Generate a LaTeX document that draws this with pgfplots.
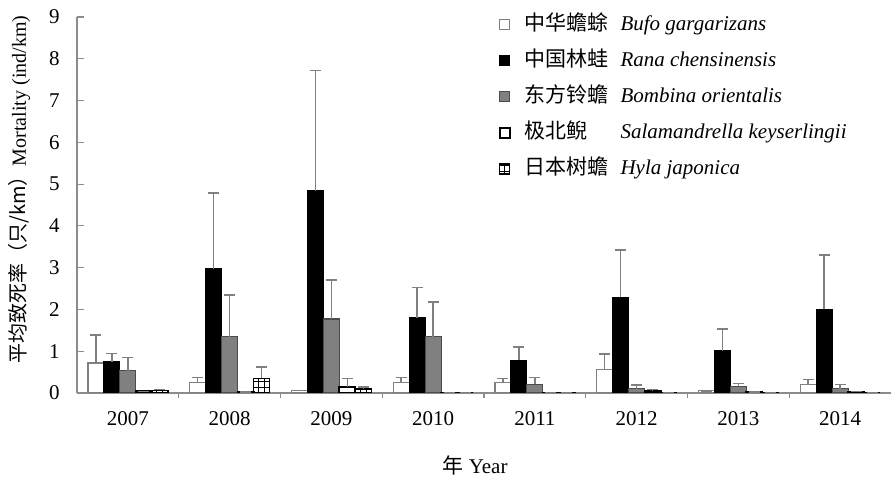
\documentclass[border=0pt]{standalone}
\usepackage{pgfplots}
\pgfplotsset{compat=1.18}
\usepackage{pgfplotstable}
\usetikzlibrary{patterns}
\usepackage{fontspec}
\setmainfont{Liberation Serif}
\newfontfamily\cjk{Noto Sans CJK SC}
\definecolor{midgray}{HTML}{808080}
\definecolor{axgray}{HTML}{8C8C8C}

\pgfplotstableread{
x y e
0 0.72 0.67
1 0.25 0.12
2 0.06 0
3 0.25 0.12
4 0.25 0.10
5 0.57 0.36
6 0.05 0
7 0.21 0.12
}\bufo
\pgfplotstableread{
x y e
0 0.74 0.20
1 2.97 1.82
2 4.84 2.88
3 1.80 0.73
4 0.78 0.32
5 2.29 1.13
6 1.01 0.52
7 2.00 1.30
}\rana
\pgfplotstableread{
x y e
0 0.53 0.32
1 1.35 1.00
2 1.77 0.93
3 1.35 0.83
4 0.21 0.16
5 0.10 0.09
6 0.16 0.06
7 0.10 0.11
}\bombina
\pgfplotstableread{
x y e
0 0.04 0
1 0.02 0
2 0.15 0.20
3 0.01 0
4 0.01 0
5 0.05 0.03
6 0.02 0
7 0.03 0
}\sala
\pgfplotstableread{
x y e
0 0.06 0.03
1 0.35 0.27
2 0.10 0.04
3 0 0
4 0.01 0
5 0.01 0
6 0.01 0
7 0 0
}\hyla

\begin{document}
\begin{tikzpicture}
\begin{axis}[
  name=ax,
  scale only axis,
  width=407pt, height=188pt,
  xmin=-0.5, xmax=7.5,
  ymin=0, ymax=9,
  axis x line=bottom, axis y line=left,
  axis line style={draw=axgray, -, line width=0.7pt},
  tick align=inside,
  tick style={draw=axgray, line width=0.6pt},
  major tick length=3.5pt,
  minor tick length=2.5pt,
  xtick={0,...,7},
  xticklabels={2007,2008,2009,2010,2011,2012,2013,2014},
  major x tick style={draw=none},
  minor xtick={0.5,1.5,...,6.5},
  ytick={0,...,9},
  /pgf/number format/assume math mode=true,
  ticklabel style={font=\fontsize{10.5}{12}\selectfont},
  xticklabel style={inner sep=0pt, anchor=north, yshift=-5.5pt},
  yticklabel style={inner sep=0pt, anchor=east, xshift=-8.5pt},
  xlabel={{\cjk 年} Year},
  xlabel style={font=\fontsize{10.5}{12}\selectfont, at={(axis description cs:0.489,0)}, anchor=center, yshift=-36pt},
  ylabel={{\cjk 平均致死率（只/km）}Mortality (ind/km)},
  ylabel style={font=\fontsize{10}{12}\selectfont, at={(axis description cs:-0.057,0.541)}, anchor=south, inner sep=0pt},
  ybar=0pt,
  bar width=0.157,
  error bars/y dir=plus,
  error bars/y explicit,
  error bars/error bar style={draw=midgray, line width=0.7pt},
  error bars/error mark options={rotate=90, mark size=2.75pt, draw=midgray, line width=0.7pt},
  legend style={draw=none, fill=none, at={(axis description cs:0.51,1.024)}, anchor=north west,
    font=\fontsize{10.5}{12}\selectfont, row sep=5.5pt, column sep=6pt,
    nodes={inner sep=1pt, text height=8pt, text depth=2.5pt}},
  legend cell align=left,
  legend image code/.code={\draw[#1] (0pt,-2.5pt) rectangle (5pt,2.5pt);},
]
\addplot[fill=white, draw=midgray, line width=0.6pt, bar shift=-0.314] table[x=x, y=y, y error=e] {\bufo};
\addlegendentry{\makebox[48pt][l]{\cjk 中华蟾蜍}\textit{Bufo gargarizans}}
\addplot[fill=black, draw=black, line width=0.6pt, bar shift=-0.157] table[x=x, y=y, y error=e] {\rana};
\addlegendentry{\makebox[48pt][l]{\cjk 中国林蛙}\textit{Rana chensinensis}}
\addplot[fill=midgray, draw=black!70, line width=0.6pt, bar shift=0] table[x=x, y=y, y error=e] {\bombina};
\addlegendentry{\makebox[48pt][l]{\cjk 东方铃蟾}\textit{Bombina orientalis}}
\addplot[fill=white, draw=black, line width=1pt, bar shift=0.157] table[x=x, y=y, y error=e] {\sala};
\addlegendentry{\makebox[48pt][l]{\cjk 极北鲵}\textit{Salamandrella keyserlingii}}
\addplot[pattern=grid, draw=black, line width=0.8pt, bar shift=0.314] table[x=x, y=y, y error=e] {\hyla};
\addlegendentry{\makebox[48pt][l]{\cjk 日本树蟾}\textit{Hyla japonica}}
\end{axis}
\pgfresetboundingbox
\path ([xshift=-38.5pt,yshift=-45pt]ax.south west) rectangle ([xshift=0.5pt,yshift=8.5pt]ax.north east);
\end{tikzpicture}
\end{document}
